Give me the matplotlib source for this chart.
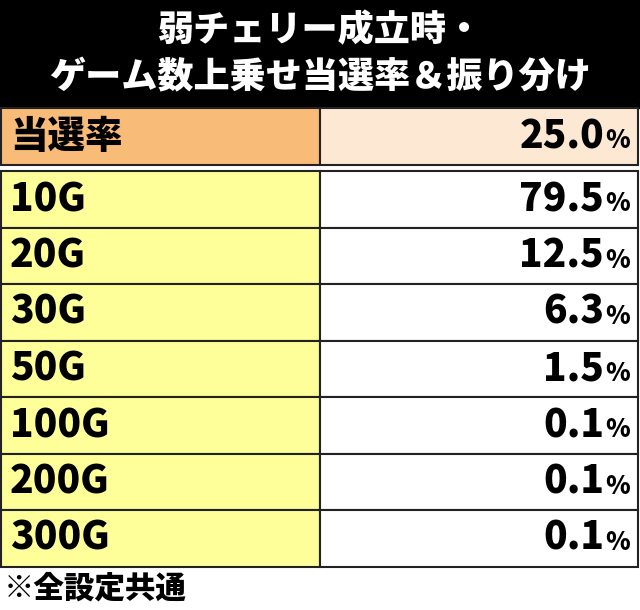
import matplotlib.pyplot as plt
from matplotlib.patches import Rectangle

# table data
title_lines = ["弱チェリー成立時・", "ゲーム数上乗せ当選率＆振り分け"]
rate_label = "当選率"
rate_value = "25.0"
games = ["10G", "20G", "30G", "50G", "100G", "200G", "300G"]
shares = ["79.5", "12.5", "6.3", "1.5", "0.1", "0.1", "0.1"]
footnote = "※全設定共通"

FONT = "Noto Sans CJK JP"

fig = plt.figure(figsize=(6.4, 6.1), dpi=100)
ax = fig.add_axes([0, 0, 1, 1])
ax.set_xlim(0, 640)
ax.set_ylim(610, 0)
ax.axis("off")

# title block
ax.add_patch(Rectangle((0, 0), 640, 108, color="black"))
ax.text(320, 30, title_lines[0], color="white", fontsize=26, fontweight="heavy",
        family=FONT, ha="center", va="center")
ax.text(320, 77, title_lines[1], color="white", fontsize=26, fontweight="heavy",
        family=FONT, ha="center", va="center")

split = 320
ec = "#222222"

def value_text(y, val):
    ax.text(604, y, val, fontsize=28, fontweight="heavy", family=FONT,
            ha="right", va="center")
    ax.text(605, y + 4, "%", fontsize=18, fontweight="heavy", family=FONT,
            ha="left", va="center")

# rate row
top, h = 108, 57
ax.add_patch(Rectangle((1, top), split - 1, h, facecolor="#F9BB78", edgecolor=ec, lw=1.5))
ax.add_patch(Rectangle((split, top), 638 - split, h, facecolor="#FDE8D3", edgecolor=ec, lw=1.5))
ax.text(10, top + h / 2, rate_label, fontsize=27, fontweight="heavy", family=FONT,
        ha="left", va="center")
value_text(top + h / 2, rate_value)

# distribution rows
top0, rh = 171, 56.5
for i, (g, s) in enumerate(zip(games, shares)):
    y = top0 + i * rh
    ax.add_patch(Rectangle((1, y), split - 1, rh, facecolor="#FFFF99", edgecolor=ec, lw=1.5))
    ax.add_patch(Rectangle((split, y), 638 - split, rh, facecolor="white", edgecolor=ec, lw=1.5))
    ax.text(10, y + rh / 2, g, fontsize=28, fontweight="heavy", family=FONT,
            ha="left", va="center")
    value_text(y + rh / 2, s)

ax.text(4, 588, footnote, fontsize=22, fontweight="heavy", family=FONT,
        ha="left", va="center")

fig.savefig("out.png", dpi=100)
